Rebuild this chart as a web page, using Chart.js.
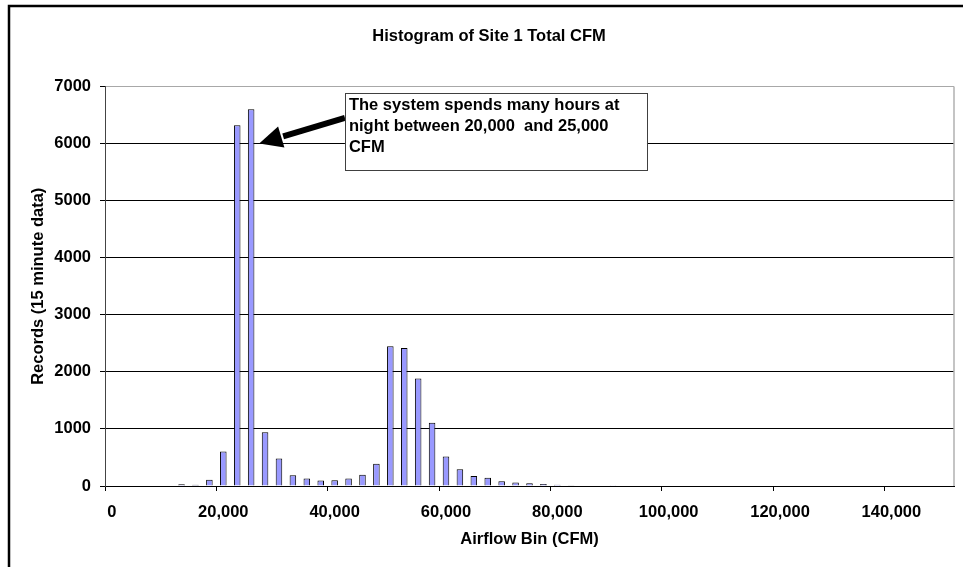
<!DOCTYPE html>
<html>
<head>
<meta charset="utf-8">
<title>Histogram of Site 1 Total CFM</title>
<script src="https://cdn.jsdelivr.net/npm/chart.js@4.4.1/dist/chart.umd.min.js"></script>
<style>
  html, body { margin: 0; padding: 0; background: #fff; }
  #wrap { width: 963px; height: 567px; }
</style>
</head>
<body>
<div id="wrap"><canvas id="histChart" width="963" height="567"></canvas></div>
<script>
// Airflow bins (CFM), one category per 2,500 CFM
const bins = [
    0, 2500, 5000, 7500, 10000, 12500, 15000, 17500, 20000, 22500,
    25000, 27500, 30000, 32500, 35000, 37500, 40000, 42500, 45000, 47500,
    50000, 52500, 55000, 57500, 60000, 62500, 65000, 67500, 70000, 72500,
    75000, 77500, 80000, 82500, 85000, 87500, 90000, 92500, 95000, 97500,
    100000, 102500, 105000, 107500, 110000, 112500, 115000, 117500, 120000, 122500,
    125000, 127500, 130000, 132500, 135000, 137500, 140000, 142500, 145000, 147500,
    150000
];

// Records (15 minute data) per bin
const records = [
    0, 0, 0, 0, 0, 30, 20, 110, 605, 6320,
    6600, 940, 480, 190, 130, 95, 100, 130, 195, 390,
    2450, 2420, 1885, 1110, 515, 292, 176, 145, 82, 62,
    47, 35, 22, 12, 0, 0, 4, 0, 0, 0,
    0, 0, 0, 0, 0, 0, 0, 0, 0, 0,
    0, 0, 0, 0, 0, 0, 0, 0, 0, 0,
    0
];

// x labels shown on every 8th bin
const xTickLabels = ['0', '20,000', '40,000', '60,000', '80,000', '100,000', '120,000', '140,000'];
const xTickEvery = 8;
const yTicks = [0, 1000, 2000, 3000, 4000, 5000, 6000, 7000];

const chartTitle = 'Histogram of Site 1 Total CFM';
const noteLines = ['The system spends many hours at', 'night between 20,000  and 25,000', 'CFM'];

// callout position in axis units (category index, records)
const note = { x0: 16.74, x1: 38.44, yTop: 6890, yBottom: 5540, tailY: 6450, tipX: 10.58, tipY: 6000 };

const FONT = "'Liberation Sans', Arial, sans-serif";
Chart.defaults.font.family = FONT;
Chart.defaults.font.size = 16.5;
Chart.defaults.font.weight = 'bold';
Chart.defaults.color = '#000';

// white page, black frame on the left/top edge, title
const framePlugin = {
    id: 'frame',
    beforeDraw(chart) {
        const ctx = chart.ctx;
        ctx.save();
        ctx.fillStyle = '#fff';
        ctx.fillRect(0, 0, chart.width, chart.height);
        ctx.strokeStyle = '#000';
        ctx.lineWidth = 2.5;
        ctx.beginPath();
        ctx.moveTo(9, chart.height + 2);
        ctx.lineTo(9, 6);
        ctx.lineTo(chart.width + 2, 6);
        ctx.stroke();

        ctx.fillStyle = '#000';
        ctx.font = 'bold 16.5px ' + FONT;
        ctx.textAlign = 'center';
        ctx.textBaseline = 'middle';
        ctx.fillText(chartTitle, 489, 36.5);
        ctx.restore();
    },
    beforeDatasetsDraw(chart) {
        // gray plot border on the right
        const a = chart.chartArea;
        const ctx = chart.ctx;
        ctx.save();
        ctx.strokeStyle = '#b0b0b0';
        ctx.lineWidth = 1.5;
        ctx.beginPath();
        ctx.moveTo(a.right, a.top);
        ctx.lineTo(a.right, a.bottom);
        ctx.stroke();
        ctx.restore();
    }
};

// text box with the arrow pointing at the 25,000 bin
const notePlugin = {
    id: 'note',
    afterDatasetsDraw(chart) {
        const xs = chart.scales.x, ys = chart.scales.y;
        const ctx = chart.ctx;
        const left = xs.getPixelForValue(note.x0);
        const right = xs.getPixelForValue(note.x1);
        const top = ys.getPixelForValue(note.yTop);
        const bottom = ys.getPixelForValue(note.yBottom);
        const tailY = ys.getPixelForValue(note.tailY);
        const tipX = xs.getPixelForValue(note.tipX);
        const tipY = ys.getPixelForValue(note.tipY);

        ctx.save();
        // arrow
        const dx = left - tipX, dy = tailY - tipY;
        const len = Math.sqrt(dx * dx + dy * dy);
        const ux = dx / len, uy = dy / len;
        const headLen = 23, headHalf = 11;
        const bx = tipX + ux * headLen, by = tipY + uy * headLen;
        ctx.strokeStyle = '#000';
        ctx.lineWidth = 6;
        ctx.beginPath();
        ctx.moveTo(left, tailY);
        ctx.lineTo(bx + ux * 2, by + uy * 2);
        ctx.stroke();
        ctx.fillStyle = '#000';
        ctx.beginPath();
        ctx.moveTo(tipX, tipY);
        ctx.lineTo(bx - uy * headHalf, by + ux * headHalf);
        ctx.lineTo(bx + uy * headHalf, by - ux * headHalf);
        ctx.closePath();
        ctx.fill();

        // box
        ctx.fillStyle = '#fff';
        ctx.fillRect(left, top, right - left, bottom - top);
        ctx.strokeStyle = '#404040';
        ctx.lineWidth = 1;
        ctx.strokeRect(Math.round(left) + 0.5, Math.round(top) + 0.5, Math.round(right - left), Math.round(bottom - top));

        ctx.fillStyle = '#000';
        ctx.font = 'bold 16.5px ' + FONT;
        ctx.textAlign = 'left';
        ctx.textBaseline = 'middle';
        noteLines.forEach((line, i) => {
            ctx.fillText(line, left + 4, top + 13 + i * 20.6);
        });
        ctx.restore();
    }
};

function renderChart() {
    const canvas = document.getElementById('histChart').getContext('2d');
    new Chart(canvas, {
        type: 'bar',
        data: {
            labels: bins,
            datasets: [{
                label: 'Records',
                data: records,
                backgroundColor: '#9999FF',
                borderColor: '#000',
                borderWidth: 1,
                barPercentage: 0.47,
                categoryPercentage: 1.0
            }]
        },
        options: {
            responsive: false,
            animation: false,
            devicePixelRatio: 1,
            layout: { padding: { left: 0, right: 9, top: 86.5, bottom: 0 } },
            plugins: {
                legend: { display: false },
                tooltip: { enabled: false },
                title: { display: false }
            },
            scales: {
                x: {
                    offset: true,
                    grid: {
                        offset: true,
                        drawOnChartArea: false,
                        tickLength: 5,
                        color: (c) => (c.index !== undefined && c.index % xTickEvery === 0) ? '#000' : 'rgba(0,0,0,0)'
                    },
                    border: { color: '#000', width: 1 },
                    ticks: {
                        autoSkip: false,
                        maxRotation: 0,
                        minRotation: 0,
                        padding: 12,
                        callback: (v, i) => i % xTickEvery === 0 ? xTickLabels[i / xTickEvery] : ''
                    },
                    title: {
                        display: true,
                        text: 'Airflow Bin (CFM)',
                        padding: { top: 0, bottom: 18 }
                    },
                    afterFit: (s) => { s.height = 81; }
                },
                y: {
                    min: yTicks[0],
                    max: yTicks[yTicks.length - 1],
                    ticks: {
                        stepSize: 1000,
                        padding: 9,
                        callback: (v) => String(v)
                    },
                    grid: {
                        tickLength: 5,
                        tickColor: '#000',
                        color: (c) => (c.tick && c.tick.value === 7000) ? '#a8a8a8' : '#000'
                    },
                    border: { color: '#444', width: 1 },
                    title: {
                        display: true,
                        text: 'Records (15 minute data)',
                        padding: { top: 29, bottom: 0 }
                    },
                    afterFit: (s) => { s.width = 105; }
                }
            }
        },
        plugins: [framePlugin, notePlugin]
    });
}

renderChart();
</script>
</body>
</html>
